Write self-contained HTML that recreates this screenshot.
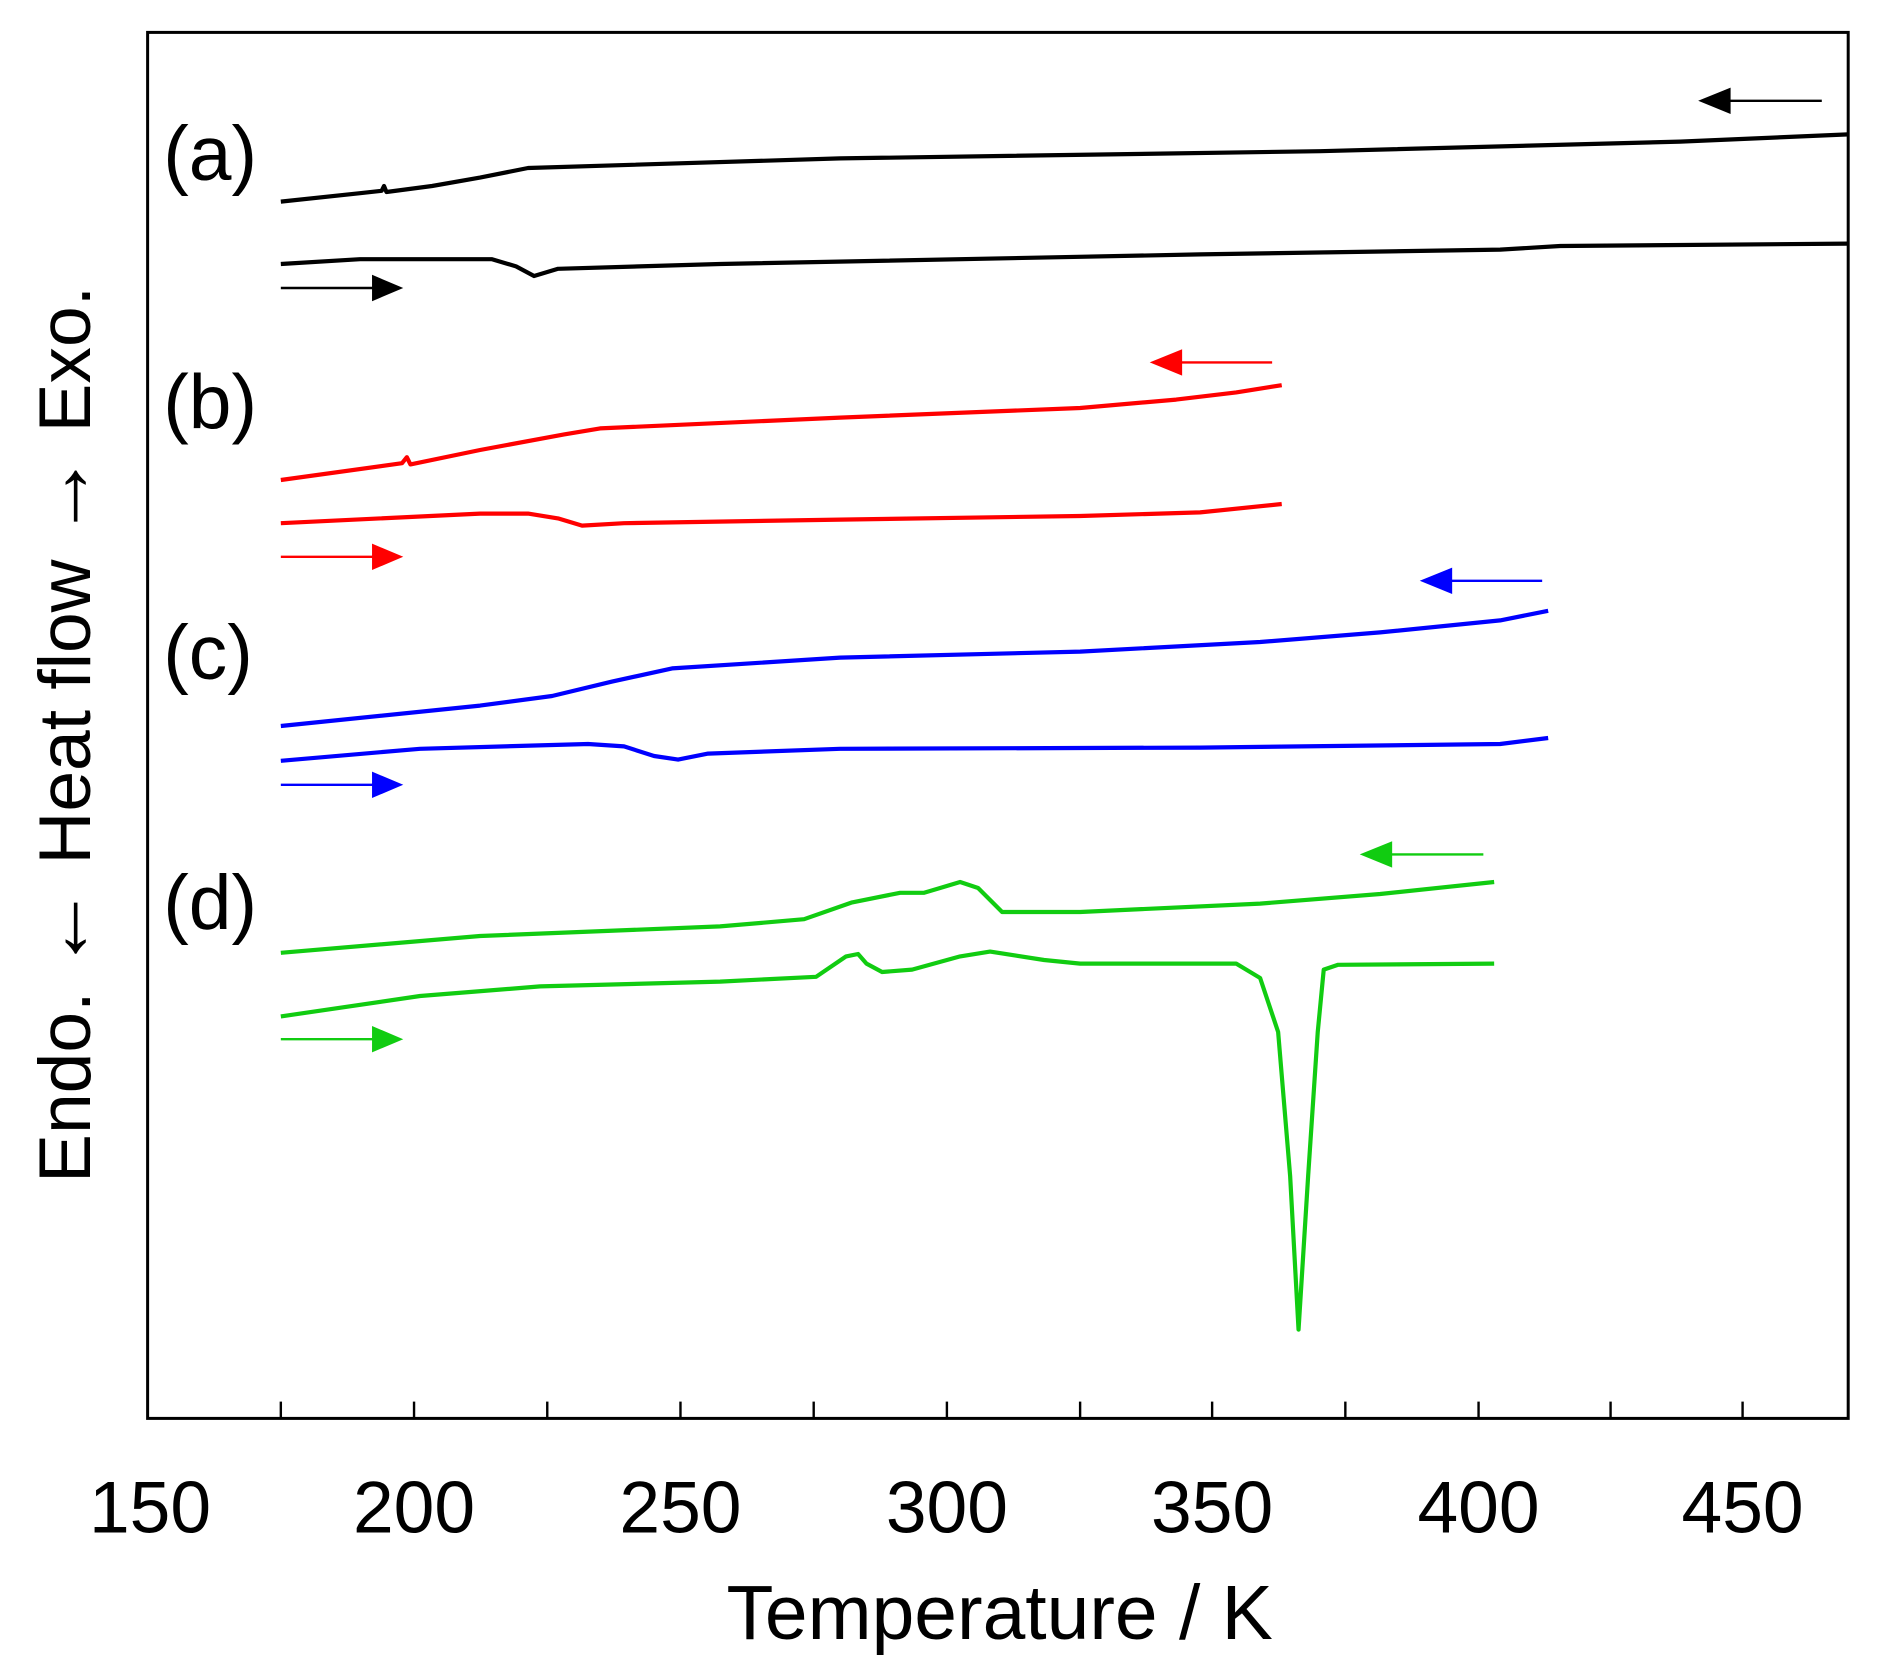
<!DOCTYPE html>
<html><head><style>html,body{margin:0;padding:0;background:#fff}svg{display:block}</style></head>
<body>
<svg width="1877" height="1677" viewBox="0 0 1564 1397.5" preserveAspectRatio="none" xmlns="http://www.w3.org/2000/svg" font-family="Liberation Sans, Arial, sans-serif">
<rect x="123" y="27" width="1417" height="1155" fill="none" stroke="#000" stroke-width="2.5"/>
<g stroke="#000" stroke-width="2">
<line x1="234" y1="1182" x2="234" y2="1168"/><line x1="345" y1="1182" x2="345" y2="1168"/><line x1="456" y1="1182" x2="456" y2="1168"/><line x1="567" y1="1182" x2="567" y2="1168"/><line x1="678" y1="1182" x2="678" y2="1168"/><line x1="789" y1="1182" x2="789" y2="1168"/><line x1="900" y1="1182" x2="900" y2="1168"/><line x1="1010" y1="1182" x2="1010" y2="1168"/><line x1="1121" y1="1182" x2="1121" y2="1168"/><line x1="1232" y1="1182" x2="1232" y2="1168"/><line x1="1342" y1="1182" x2="1342" y2="1168"/><line x1="1452" y1="1182" x2="1452" y2="1168"/>
</g>
<g font-size="61" text-anchor="middle" fill="#000">
<text x="125" y="1277">150</text><text x="345" y="1277">200</text><text x="567" y="1277">250</text><text x="789" y="1277">300</text><text x="1010" y="1277">350</text><text x="1232" y="1277">400</text><text x="1452" y="1277">450</text>
</g>
<text x="833" y="1366" font-size="64" text-anchor="middle" fill="#000">Temperature / K</text>
<text transform="translate(75,612) rotate(-90)" font-size="61" text-anchor="middle" fill="#000">Endo. <tspan font-size="72">←</tspan> Heat flow <tspan font-size="72">→</tspan> Exo.</text>
<g font-size="64" fill="#000"><text x="136" y="150">(a)</text><text x="136" y="357">(b)</text><text x="136" y="566">(c)</text><text x="136" y="774">(d)</text></g>
<g fill="none" stroke-width="3.5" stroke-linejoin="round">
<polyline stroke="#000" points="234,168 300,161 318,159 320,155 322,160 360,155 400,148 440,140 700,132 1100,126 1400,118 1540,112"/>
<polyline stroke="#000" points="234,220 300,216 410,216 430,222 445,230 465,224 600,220 1000,212 1250,208 1300,205 1540,203"/>
<polyline stroke="#f00" points="234,400 335,386 339,381 342,387 400,375 470,362 500,357 700,348 900,340 980,333 1030,327 1068,321"/>
<polyline stroke="#f00" points="234,436 400,428 440,428 465,432 485,438 520,436 700,433 900,430 1000,427 1068,420"/>
<polyline stroke="#00f" points="234,605 400,588 460,580 510,568 560,557 700,548 900,543 1050,535 1150,527 1250,517 1290,509"/>
<polyline stroke="#00f" points="234,634 350,624 490,620 520,622 545,630 565,633 590,628 700,624 1000,623 1250,620 1290,615"/>
<polyline stroke="#1c1" points="234,794 400,780 600,772 670,766 710,752 750,744 770,744 800,735 815,740 835,760 900,760 1050,753 1150,745 1245,735"/>
<polyline stroke="#1c1" points="234,847 350,830 450,822 600,818 680,814 705,797 715,795 722,803 735,810 760,808 800,797 825,793 870,800 900,803 1030,803 1050,815 1065,860 1075,980 1082,1108 1090,980 1098,860 1103,808 1115,804 1245,803"/>
</g>
<g stroke-width="2">
<line x1="1440" y1="84" x2="1518" y2="84" stroke="#000"/><polygon points="1415,84 1442,73 1442,95" fill="#000"/>
<line x1="234" y1="240" x2="312" y2="240" stroke="#000"/><polygon points="336,240 310,229 310,251" fill="#000"/>
<line x1="983" y1="302" x2="1060" y2="302" stroke="#f00"/><polygon points="958,302 985,291 985,313" fill="#f00"/>
<line x1="234" y1="464" x2="312" y2="464" stroke="#f00"/><polygon points="336,464 310,453 310,475" fill="#f00"/>
<line x1="1208" y1="484" x2="1285" y2="484" stroke="#00f"/><polygon points="1183,484 1210,473 1210,495" fill="#00f"/>
<line x1="234" y1="654" x2="312" y2="654" stroke="#00f"/><polygon points="336,654 310,643 310,665" fill="#00f"/>
<line x1="1158" y1="712" x2="1236" y2="712" stroke="#1c1"/><polygon points="1133,712 1160,701 1160,723" fill="#1c1"/>
<line x1="234" y1="866" x2="312" y2="866" stroke="#1c1"/><polygon points="336,866 310,855 310,877" fill="#1c1"/>
</g>
</svg>
</body></html>
